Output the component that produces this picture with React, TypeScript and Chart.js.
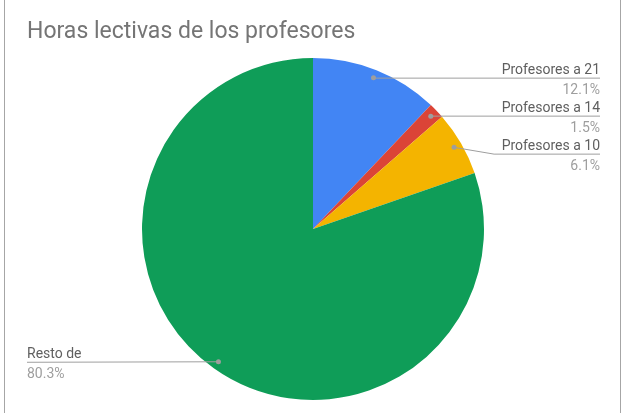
import React, { useEffect, useRef } from "react";
import { Chart, registerables } from "chart.js";

Chart.register(...registerables);

const chartTitle = "Horas lectivas de los profesores";
const categories = ["Profesores a 21", "Profesores a 14", "Profesores a 10", "Resto de"];
const shares = [12.1, 1.5, 6.1, 80.3];
const percentLabels = ["12.1%", "1.5%", "6.1%", "80.3%"];
const colors = ["#4285F4", "#DB4437", "#F4B400", "#0F9D58"];

const FONT = "Roboto, Arial, sans-serif";

const labelPlugin = {
  id: "pieLabels",
  afterDraw(chart: any) {
    const ctx = chart.ctx as CanvasRenderingContext2D;
    const W = chart.width;
    const H = chart.height;
    ctx.save();
    // frame lines
    ctx.strokeStyle = "#a6a6a6";
    ctx.lineWidth = 1;
    ctx.beginPath();
    ctx.moveTo(4.5, 0);
    ctx.lineTo(4.5, H);
    ctx.moveTo(W - 0.5, 0);
    ctx.lineTo(W - 0.5, H);
    ctx.stroke();

    // title
    ctx.fillStyle = "#757575";
    ctx.font = `23px ${FONT}`;
    ctx.textAlign = "left";
    ctx.textBaseline = "alphabetic";
    ctx.fillText(chartTitle, 27, 38);

    const meta = chart.getDatasetMeta(0);
    const rightX = 600;
    const leftX = 27;
    let prevRight = -Infinity;
    meta.data.forEach((arc: any, i: number) => {
      const mid = (arc.startAngle + arc.endAngle) / 2;
      const r = arc.outerRadius - 8;
      const dx = arc.x + Math.cos(mid) * r;
      const dy = arc.y + Math.sin(mid) * r;
      const isRight = Math.cos(mid) >= 0;
      let lineY: number;
      if (isRight) {
        lineY = prevRight === -Infinity ? dy : Math.max(dy - 4, prevRight + 38);
        prevRight = lineY;
      } else {
        lineY = dy;
      }
      ctx.strokeStyle = "#9e9e9e";
      ctx.lineWidth = 1;
      ctx.beginPath();
      ctx.moveTo(dx, dy);
      if (isRight) {
        const bend = Math.abs(lineY - dy) > 1 ? dx + 40 : dx;
        ctx.lineTo(bend, lineY + 0.5);
        ctx.lineTo(rightX, lineY + 0.5);
      } else {
        ctx.lineTo(leftX, lineY + 0.5);
      }
      ctx.stroke();
      ctx.fillStyle = "#9e9e9e";
      ctx.beginPath();
      ctx.arc(dx, dy, 2.5, 0, Math.PI * 2);
      ctx.fill();

      ctx.font = `14px ${FONT}`;
      ctx.textAlign = isRight ? "right" : "left";
      const tx = isRight ? rightX : leftX;
      ctx.fillStyle = "#5f5f5f";
      ctx.fillText(categories[i], tx, lineY - 4);
      ctx.fillStyle = "#9e9e9e";
      ctx.fillText(percentLabels[i], tx, lineY + 16);
    });
    ctx.restore();
  },
};

export default function App() {
  const ref = useRef<HTMLCanvasElement | null>(null);
  useEffect(() => {
    document.body.style.margin = "0";
    if (!ref.current) return;
    const chart = new Chart(ref.current, {
      type: "pie",
      data: {
        labels: categories,
        datasets: [
          {
            data: shares,
            backgroundColor: colors,
            borderWidth: 0,
          },
        ],
      },
      options: {
        responsive: false,
        animation: false,
        layout: { padding: { top: 58, bottom: 13, left: 142, right: 137 } },
        plugins: {
          legend: { display: false },
          tooltip: { enabled: false },
          title: { display: false },
        },
      },
      plugins: [labelPlugin],
    });
    return () => chart.destroy();
  }, []);
  return (
    <div style={{ width: 621, height: 413, background: "#fff" }}>
      <canvas ref={ref} width={621} height={413} style={{ display: "block" }} />
    </div>
  );
}
